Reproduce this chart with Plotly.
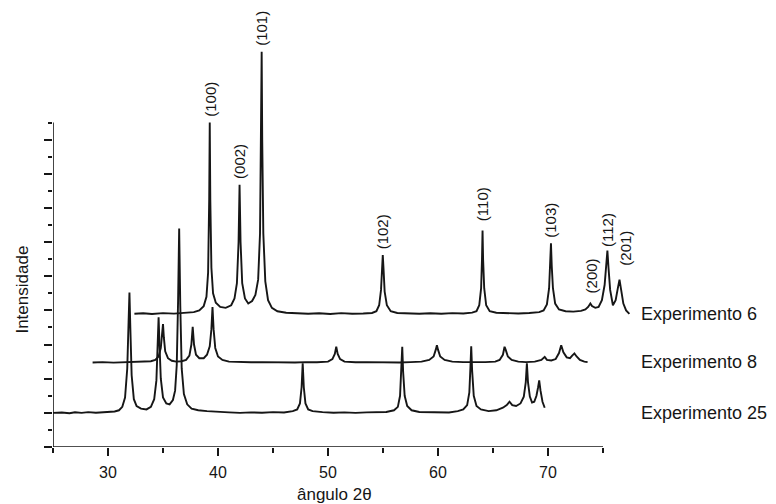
import plotly.graph_objects as go

# ---------------- data ----------------
series_names = ["Experimento 6", "Experimento 8", "Experimento 25"]

exp6_x = [32.4, 33.2, 34.0, 35.0, 36.0, 37.0, 37.8, 38.3, 38.7, 38.95, 39.1, 39.2, 39.25, 39.3, 39.4, 39.55,
          39.8, 40.2, 40.7, 41.2, 41.5, 41.72, 41.87, 41.96, 42.05, 42.2, 42.45, 42.75, 43.1, 43.4, 43.65,
          43.82, 43.92, 43.97, 44.02, 44.12, 44.3, 44.55, 44.9, 45.4, 46.2, 47.2, 48.2, 49.2, 50.2, 51.2,
          52.2, 53.2, 54.0, 54.4, 54.65, 54.82, 54.92, 54.98, 55.05, 55.15, 55.35, 55.7, 56.3, 57.3, 58.3,
          59.3, 60.3, 61.3, 62.3, 63.1, 63.5, 63.75, 63.92, 64.0, 64.05, 64.1, 64.2, 64.38, 64.7, 65.3,
          66.3, 67.3, 68.3, 69.2, 69.6, 69.9, 70.1, 70.2, 70.27, 70.34, 70.45, 70.65, 71.0, 71.6, 72.3,
          73.0, 73.4, 73.65, 73.85, 74.0, 74.3, 74.6, 74.9, 75.15, 75.3, 75.4, 75.5, 75.65, 75.9, 76.15,
          76.35, 76.5, 76.65, 76.85, 77.1, 77.4]
exp6_y = [7.80, 7.83, 7.79, 7.84, 7.81, 7.86, 7.90, 8.00, 8.25, 8.80, 10.2, 14.5, 19.0, 14.5, 10.5, 9.0,
          8.45, 8.20, 8.15, 8.30, 8.70, 9.60, 12.0, 15.35, 12.0, 9.60, 8.70, 8.40, 8.55, 8.90, 9.80,
          12.5, 18.0, 23.15, 18.0, 12.5, 9.70, 8.60, 8.15, 7.95, 7.86, 7.82, 7.80, 7.83, 7.79, 7.84,
          7.80, 7.82, 7.85, 7.95, 8.30, 9.20, 10.5, 11.24, 10.4, 9.10, 8.30, 7.95, 7.85, 7.82, 7.80,
          7.83, 7.80, 7.84, 7.82, 7.87, 7.95, 8.30, 9.30, 11.0, 12.67, 11.0, 9.30, 8.30, 7.95, 7.86,
          7.83, 7.82, 7.85, 7.90, 8.00, 8.35, 9.30, 10.6, 11.93, 10.6, 9.30, 8.40, 8.05, 7.95, 7.93,
          7.97, 8.05, 8.20, 8.40, 8.25, 8.15, 8.20, 8.60, 9.50, 10.7, 11.5, 10.5, 9.20, 8.30, 8.60,
          9.30, 9.80, 9.20, 8.40, 8.00, 7.80]

exp8_x = [28.6, 29.5, 30.5, 31.5, 32.5, 33.3, 33.9, 34.3, 34.6, 34.8, 34.92, 35.0, 35.08, 35.2, 35.45,
          35.8, 36.2, 36.7, 37.1, 37.4, 37.58, 37.7, 37.82, 38.0, 38.3, 38.7, 39.0, 39.25, 39.4, 39.5,
          39.6, 39.75, 40.0, 40.4, 41.0, 42.0, 43.0, 44.0, 45.0, 46.0, 47.0, 48.0, 49.0, 50.0, 50.4,
          50.62, 50.75, 50.88, 51.1, 51.5, 52.5, 53.5, 54.5, 55.5, 56.5, 57.5, 58.5, 59.2, 59.6, 59.8,
          59.9, 60.0, 60.2, 60.6, 61.3, 62.3, 63.3, 64.3, 65.2, 65.6, 65.9, 66.05, 66.15, 66.35, 66.7,
          67.3, 68.0, 68.8, 69.4, 69.7, 69.9, 70.3, 70.7, 71.0, 71.2, 71.4, 71.7, 72.0, 72.2, 72.4,
          72.6, 72.9, 73.3, 73.6]
exp8_y = [4.95, 4.97, 4.94, 4.96, 4.95, 4.97, 5.02, 5.10, 5.30, 5.80, 6.50, 7.20, 6.40, 5.60, 5.20,
          5.05, 5.00, 5.02, 5.10, 5.35, 6.00, 7.04, 6.00, 5.40, 5.20, 5.20, 5.40, 5.90, 6.90, 8.20,
          6.90, 5.80, 5.30, 5.10, 5.00, 4.97, 4.96, 4.97, 4.95, 4.96, 4.95, 4.97, 4.96, 5.00, 5.15,
          5.45, 5.87, 5.45, 5.15, 5.00, 4.96, 4.97, 4.95, 4.96, 4.95, 4.97, 5.00, 5.10, 5.30, 5.70,
          5.96, 5.70, 5.30, 5.10, 5.00, 4.97, 4.96, 4.97, 5.00, 5.10, 5.40, 5.87, 5.70, 5.30, 5.10,
          5.00, 4.97, 5.00, 5.10, 5.28, 5.10, 5.07, 5.15, 5.50, 5.96, 5.55, 5.25, 5.20, 5.35, 5.48,
          5.30, 5.10, 5.00, 4.97]

exp25_x = [25.0, 25.8, 26.5, 27.0, 27.6, 28.2, 28.9, 29.5, 30.1, 30.6, 31.0, 31.3, 31.55, 31.75, 31.87,
           31.95, 32.03, 32.15, 32.35, 32.6, 33.0, 33.5, 33.9, 34.2, 34.4, 34.52, 34.6, 34.68, 34.8,
           35.0, 35.3, 35.6, 35.9, 36.1, 36.25, 36.37, 36.47, 36.57, 36.7, 36.9, 37.2, 37.6, 38.2,
           39.0, 40.0, 41.0, 42.0, 43.0, 44.0, 45.0, 46.0, 46.8, 47.2, 47.45, 47.6, 47.7, 47.8, 47.95,
           48.2, 48.6, 49.5, 50.5, 51.5, 52.5, 53.5, 54.5, 55.3, 56.0, 56.35, 56.55, 56.68, 56.75,
           56.83, 56.97, 57.2, 57.6, 58.3, 59.2, 60.0, 61.0, 61.8, 62.3, 62.65, 62.85, 62.95, 63.02,
           63.1, 63.25, 63.5, 63.9, 64.6, 65.3, 65.9, 66.25, 66.5, 66.75, 67.1, 67.5, 67.8, 67.98,
           68.08, 68.18, 68.35, 68.55, 68.75, 68.95, 69.1, 69.2, 69.32, 69.5, 69.7]
exp25_y = [2.00, 2.02, 1.98, 2.03, 2.00, 2.04, 2.01, 2.03, 2.05, 2.08, 2.15, 2.35, 2.90, 4.60, 7.30,
           9.05, 7.00, 4.20, 2.80, 2.40, 2.25, 2.20, 2.35, 2.80, 3.90, 6.00, 7.60, 6.00, 4.00,
           2.90, 2.55, 2.50, 2.75, 3.30, 4.80, 8.50, 12.8, 8.30, 4.60, 3.10, 2.50, 2.25, 2.15,
           2.10, 2.05, 2.03, 2.00, 2.03, 2.01, 2.04, 2.02, 2.10, 2.20, 2.55, 3.50, 4.90, 3.50, 2.55,
           2.20, 2.10, 2.04, 2.01, 2.03, 2.00, 2.03, 2.02, 2.05, 2.15, 2.35, 3.00, 4.50, 5.87,
           4.40, 3.00, 2.40, 2.15, 2.05, 2.03, 2.04, 2.02, 2.10, 2.20, 2.45, 3.20, 4.70, 5.90,
           4.50, 3.00, 2.40, 2.20, 2.10, 2.15, 2.30, 2.45, 2.65, 2.45, 2.40, 2.55, 2.95, 3.80,
           4.90, 3.80, 2.95, 2.60, 2.65, 3.00, 3.50, 3.90, 3.30, 2.65, 2.30]

peak_labels = ["(100)", "(002)", "(101)", "(102)", "(110)", "(103)", "(200)", "(112)", "(201)"]
peak_angles = [39.25, 41.96, 43.97, 54.98, 64.05, 70.27, 73.85, 75.4, 76.5]

x_major = [30, 40, 50, 60, 70]
x_minor = [25, 35, 45, 55, 65, 75]
y_major = [0, 2, 4, 6, 8, 10, 12, 14, 16, 18]
y_minor = [1, 3, 5, 7, 9, 11, 13, 15, 17, 19]

# ---------------- figure ----------------
INK = "#161616"
FONT = "Liberation Sans, Arial, sans-serif"

fig = go.Figure()
for xs, ys, name in [(exp6_x, exp6_y, series_names[0]),
                     (exp8_x, exp8_y, series_names[1]),
                     (exp25_x, exp25_y, series_names[2])]:
    fig.add_trace(go.Scatter(x=xs, y=ys, mode="lines", name=name,
                             line=dict(color=INK, width=1.9), showlegend=False,
                             hoverinfo="skip"))

annotations = []
# series labels on the right, at each trace's start baseline
for xs, ys, name in [(exp6_x, exp6_y, series_names[0]),
                     (exp8_x, exp8_y, series_names[1]),
                     (exp25_x, exp25_y, series_names[2])]:
    annotations.append(dict(x=1, xref="paper", xshift=3, y=ys[0], yref="y",
                            text=name, showarrow=False, xanchor="left", yanchor="middle",
                            font=dict(family=FONT, size=18, color=INK)))

# hkl labels above Experimento 6 peaks
label_shift = {"(110)": 7, "(200)": 8, "(112)": 2, "(201)": 12}
label_xshift = {"(201)": 6, "(200)": 1, "(101)": -1}
for lab, ang in zip(peak_labels, peak_angles):
    top = max(y for x, y in zip(exp6_x, exp6_y) if abs(x - ang) < 0.12)
    annotations.append(dict(x=ang, y=top, xref="x", yref="y", text=lab, showarrow=False,
                            textangle=-90, xanchor="center", yanchor="bottom",
                            yshift=label_shift.get(lab, 4), xshift=label_xshift.get(lab, 0),
                            font=dict(family=FONT, size=15, color=INK)))

annotations.append(dict(x=50.6, xref="x", y=-0.106, yref="paper", text="ângulo 2θ",
                        showarrow=False, xanchor="center", yanchor="middle",
                        font=dict(family=FONT, size=17, color=INK)))
annotations.append(dict(x=-0.052, xref="paper", y=9.2, yref="y", text="Intensidade",
                        showarrow=False, textangle=-90, xanchor="center", yanchor="middle",
                        font=dict(family=FONT, size=17, color=INK)))

shapes = [
    dict(type="line", xref="x", yref="y", x0=x_minor[0], x1=x_minor[-1], y0=0, y1=0,
         line=dict(color=INK, width=1.6)),
    dict(type="line", xref="x", yref="y", x0=x_minor[0], x1=x_minor[0], y0=0, y1=y_minor[-1],
         line=dict(color=INK, width=1.6)),
]

fig.update_layout(
    width=776, height=504,
    margin=dict(l=53, r=140, t=3, b=57),
    paper_bgcolor="white", plot_bgcolor="white",
    annotations=annotations, shapes=shapes,
    font=dict(family=FONT, color=INK),
)
fig.update_xaxes(range=[25, 78], showgrid=False, zeroline=False, showline=False,
                 tickmode="array", tickvals=x_major, ticks="outside", ticklen=8, tickwidth=1.5,
                 tickcolor=INK, tickfont=dict(family=FONT, size=16, color=INK),
                 ticklabelstandoff=3,
                 minor=dict(tickmode="array", tickvals=x_minor, ticks="outside", ticklen=5,
                            tickwidth=1.5, tickcolor=INK, showgrid=False))
fig.update_yaxes(range=[0, 26], showgrid=False, zeroline=False, showline=False,
                 tickmode="array", tickvals=y_major, ticks="outside", ticklen=8, tickwidth=1.5,
                 tickcolor=INK, showticklabels=False,
                 minor=dict(tickmode="array", tickvals=y_minor, ticks="outside", ticklen=4,
                            tickwidth=1.5, tickcolor=INK, showgrid=False))

fig.write_html("out.html", config={"displayModeBar": False},
               post_script="document.body.style.margin='0px';document.body.style.overflow='hidden';")
